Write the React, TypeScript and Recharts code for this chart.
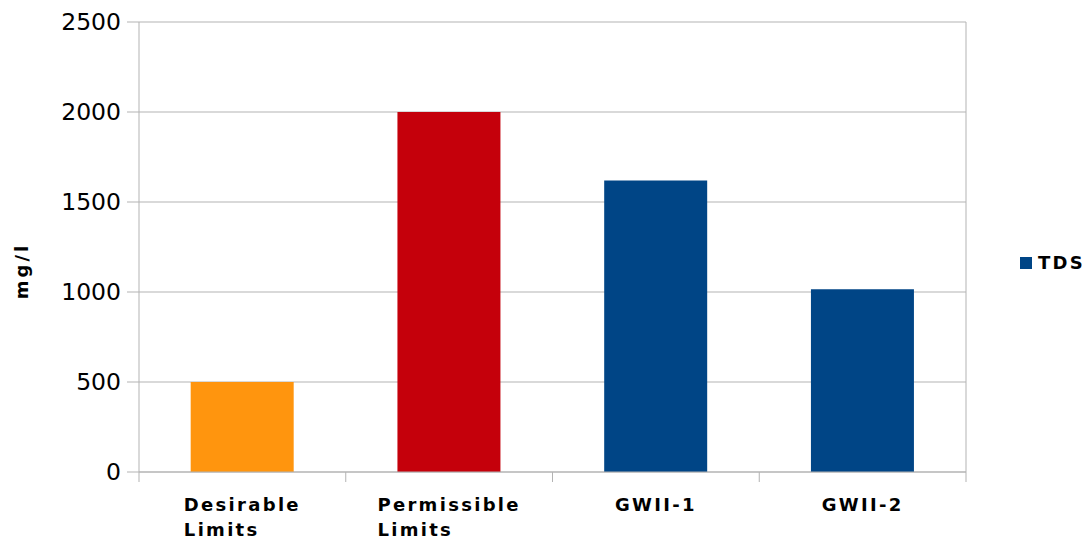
import { BarChart, Bar, XAxis, YAxis, CartesianGrid, Cell, Legend, Label } from "recharts";

const categories = ["Desirable Limits", "Permissible Limits", "GWII-1", "GWII-2"];
const tdsValues = [500, 2000, 1620, 1015];
const barColors = ["#ff950e", "#c5000b", "#004586", "#004586"];
const yTicks = [0, 500, 1000, 1500, 2000, 2500];

const data = categories.map((name, i) => ({ name, tds: tdsValues[i] }));

const FONT = "'DejaVu Sans', Verdana, sans-serif";
const GRID = "#b3b3b3";

function CategoryTick(props: any) {
    const { x, y, payload, index, visibleTicksCount } = props;
    const half = payload.offset || 0;
    const lines = String(payload.value).split(" ");
    return (
        <g>
            <line x1={x - half} x2={x - half} y1={y - 10} y2={y} stroke={GRID} />
            {index === visibleTicksCount - 1 && (
                <line x1={x + half} x2={x + half} y1={y - 10} y2={y} stroke={GRID} />
            )}
            <foreignObject x={x - 100} y={y + 10} width={200} height={60}>
                <div style={{ textAlign: "center", fontFamily: FONT }}>
                    <span
                        style={{
                            display: "inline-block",
                            textAlign: "left",
                            fontWeight: "bold",
                            fontSize: 18,
                            letterSpacing: 2.3,
                            lineHeight: "25px",
                            color: "#000",
                        }}
                    >
                        {lines.map((l, i) => (
                            <div key={i}>{l}</div>
                        ))}
                    </span>
                </div>
            </foreignObject>
        </g>
    );
}

function TdsLegend() {
    return (
        <div style={{ display: "flex", alignItems: "center", fontFamily: FONT }}>
            <span style={{ width: 12, height: 12, background: "#004586", display: "inline-block", marginRight: 6 }} />
            <span style={{ fontWeight: "bold", fontSize: 18, letterSpacing: 2.3, color: "#000" }}>TDS</span>
        </div>
    );
}

export default function App() {
    return (
        <div style={{ position: "absolute", left: 0, top: 0, width: 1092, height: 543, background: "#fff" }}>
            <BarChart
                width={1092}
                height={543}
                data={data}
                margin={{ top: 22, right: 126, bottom: 0, left: 0 }}
                barCategoryGap="25%"
                style={{ fontFamily: FONT }}
            >
                <CartesianGrid
                    stroke={GRID}
                    horizontal={true}
                    vertical={true}
                    verticalCoordinatesGenerator={({ offset }: any) => [offset.left + offset.width]}
                />
                <XAxis
                    dataKey="name"
                    height={71}
                    axisLine={{ stroke: GRID }}
                    tickLine={false}
                    tickSize={10}
                    tickMargin={0}
                    tick={<CategoryTick />}
                    interval={0}
                />
                <YAxis
                    width={139}
                    domain={[0, 2500]}
                    ticks={yTicks}
                    interval={0}
                    axisLine={{ stroke: GRID }}
                    tickLine={{ stroke: GRID }}
                    tickSize={12}
                    tickMargin={6}
                    tick={{ fill: "#000", fontSize: 23.5, fontFamily: FONT }}
                >
                    <Label
                        content={({ viewBox }: any) => {
                            const cx = viewBox.x + 21;
                            const cy = viewBox.y + viewBox.height / 2 + 24;
                            return (
                                <text
                                    x={cx}
                                    y={cy}
                                    transform={`rotate(-90, ${cx}, ${cy})`}
                                    textAnchor="middle"
                                    dominantBaseline="central"
                                    fontFamily={FONT}
                                    fontWeight="bold"
                                    fontSize={18}
                                    letterSpacing={3}
                                    fill="#000"
                                >
                                    mg/l
                                </text>
                            );
                        }}
                    />
                </YAxis>
                <Legend
                    layout="vertical"
                    align="center"
                    verticalAlign="middle"
                    content={<TdsLegend />}
                    wrapperStyle={{ left: 1020, top: 252, width: 72 }}
                />
                <Bar dataKey="tds" isAnimationActive={false}>
                    {data.map((d, i) => (
                        <Cell key={d.name} fill={barColors[i]} />
                    ))}
                </Bar>
            </BarChart>
        </div>
    );
}
